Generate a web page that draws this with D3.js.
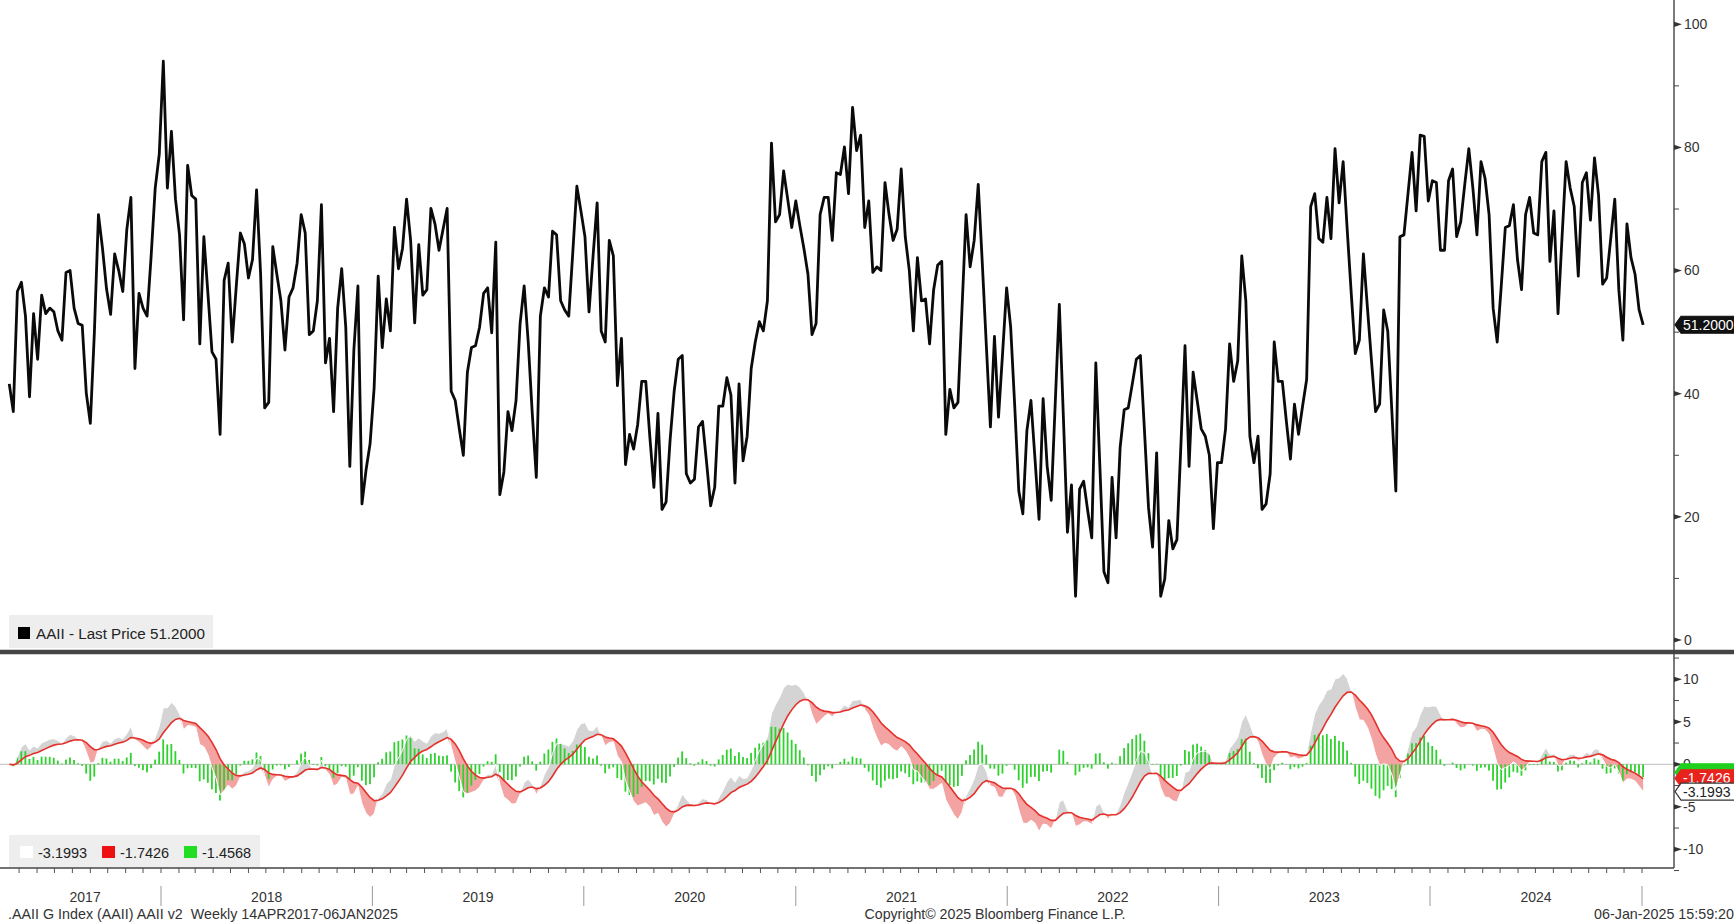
<!DOCTYPE html>
<html>
<head>
<meta charset="utf-8">
<script src="https://cdn.jsdelivr.net/npm/d3@7"></script>
<style>
  html, body { margin: 0; padding: 0; background: #fff; }
  svg { display: block; font-family: "Liberation Sans", Arial, sans-serif; }
</style>
</head>
<body>
<svg id="chart" width="1734" height="922"></svg>
<script>
// Weekly AAII readings, first week 14 Apr 2017, one value per week
const aaiiValues = [
  41.6, 37.1, 56.6, 58.1, 52.6, 39.5, 53.0, 45.6, 56.0, 53.0,
  53.9, 53.3, 50.2, 48.7, 59.7, 60.0, 53.9, 51.4, 51.1, 40.1,
  35.2, 50.0, 69.1, 63.6, 57.0, 52.9, 62.7, 60.0, 56.6, 66.7,
  71.9, 44.1, 56.3, 53.9, 52.6, 62.4, 73.4, 78.9, 94.0, 73.4,
  82.6, 71.6, 65.8, 52.0, 77.1, 72.2, 71.6, 48.1, 65.5, 56.3,
  46.8,
  45.6, 33.4, 58.4, 61.2, 48.4, 57.5, 66.1, 64.3, 58.8, 61.8,
  73.1, 59.4, 37.7, 38.6, 63.9, 59.4, 55.1, 47.1, 55.7, 57.2,
  61.2, 69.1, 66.1, 49.6, 50.2, 55.1, 70.7, 45.0, 49.0, 37.1,
  53.9, 60.3, 50.8, 28.2, 47.1, 57.5, 22.1, 27.6, 31.9, 41.0,
  59.1, 47.5, 55.4, 50.2, 67.0, 60.3, 63.6, 71.6, 64.9, 51.5,
  64.2,
  56.0, 56.9, 70.1, 67.6, 63.3, 66.7, 70.1, 40.4, 38.9, 34.3, 30.0,
  43.5, 47.5, 47.8, 50.8, 56.3, 57.2, 49.9, 64.6, 23.6, 27.3,
  37.1, 34.0, 38.9, 51.4, 57.5, 48.4, 36.8, 26.4, 52.6, 57.2,
  55.7, 66.4, 65.8, 55.1, 53.6, 52.6, 63.0, 73.7, 69.7, 65.5,
  53.3, 62.4, 71.0, 50.2, 48.4, 64.9, 62.4, 41.3, 49.0,
  28.5, 33.4, 31.0, 35.0, 42.0, 42.0, 33.0, 24.8, 36.8, 21.2,
  22.4, 32.5, 40.4, 45.6, 46.2, 27.0, 25.5, 26.1, 34.6, 35.5,
  28.8, 21.8, 24.8, 38.0, 38.0, 42.6, 39.8, 25.5, 41.6, 29.1,
  33.1, 44.1, 48.4, 51.7, 50.2, 55.1, 80.7, 67.9, 69.1, 76.2,
  71.6, 67.0, 71.3, 67.3, 63.6, 59.4, 49.6, 51.4, 69.1, 71.9,
  71.9,
  64.9, 75.9, 75.6, 80.1, 72.5, 86.5, 79.5, 82.0, 67.0, 71.3,
  59.7, 60.6, 60.0, 74.3, 69.1, 64.9, 66.7, 76.5, 65.5, 60.0,
  50.2, 62.1, 55.1, 55.4, 48.1, 56.9, 60.9, 61.5, 33.4, 40.7,
  37.7, 38.6, 53.9, 69.1, 60.6, 64.9, 74.0, 61.2, 47.8, 34.6,
  49.3, 36.2, 46.5, 57.2, 50.8, 38.0, 24.2, 20.5, 34.0, 38.9,
  29.4, 19.6, 39.2, 28.2, 22.7, 38.6, 54.5, 36.2, 17.5, 25.2,
  7.1, 24.5, 25.8, 21.0, 16.6, 45.0, 28.2, 11.1, 9.3, 26.4,
  16.6, 31.3, 37.4, 37.7, 41.6, 45.6, 46.2, 34.0, 21.5, 15.1,
  30.4, 7.1, 9.9, 19.4, 14.8, 16.3, 31.9, 47.8, 28.2, 43.5,
  38.9, 34.3, 33.1, 30.0, 18.1, 28.8, 28.8, 34.3, 48.1, 42.0,
  45.3, 62.4, 55.1, 33.1, 28.8, 33.1, 21.2, 22.1, 27.0, 48.4,
  42.0, 42.0, 35.5, 29.4, 38.3, 33.4, 38.0, 42.3, 70.4, 72.5,
  65.2, 64.6, 71.9, 65.2, 79.8, 71.0, 77.7, 66.7, 56.3, 46.5,
  48.7, 62.7, 53.9, 45.3, 37.1, 38.3, 53.6, 50.2, 37.4, 24.2,
  65.5, 65.8, 72.5, 79.2, 69.7, 82.0, 81.8, 71.3, 74.6, 74.3,
  63.3,
  63.3, 74.6, 76.5, 65.5, 67.9, 74.0, 79.8, 73.4, 65.8, 77.7,
  75.0, 69.1, 53.9, 48.4, 57.5, 67.0, 67.3, 70.7, 61.8, 56.9,
  69.1, 71.9, 66.1, 65.8, 77.7, 79.2, 61.5, 69.7, 53.0, 65.5,
  77.7, 73.4, 70.4, 59.1, 74.3, 75.9, 68.2, 78.3, 72.2, 57.8,
  58.8, 65.2, 71.6, 56.9, 48.7, 67.6, 62.1, 59.4, 53.6, 51.2
];

const firstWeek = new Date(2017, 3, 14);
const yearLabels = ["2017", "2018", "2019", "2020", "2021", "2022", "2023", "2024"];
const priceTicks = [0, 20, 40, 60, 80, 100];
const priceMinorTicks = [10, 30, 50, 70, 90];
const macdTicks = [-10, -5, 0, 5, 10];
const macdMinorTicks = [-12.5, -7.5, -2.5, 2.5, 7.5, 12.5];
const lastPriceText = "51.2000";
const priceLegendText = "AAII - Last Price 51.2000";
const macdLegendTexts = ["-3.1993", "-1.7426", "-1.4568"];
const footerLeft = ".AAII G Index (AAII) AAII v2\u00A0\u00A0Weekly 14APR2017-06JAN2025";
const footerMid = "Copyright\u00A9 2025 Bloomberg Finance L.P.";
const footerRight = "06-Jan-2025 15:59:20";

// MACD(12, 26, 9) study on the weekly series
function ema(values, n) {
  const k = 2 / (n + 1);
  const out = [];
  let prev = values[0];
  values.forEach((v, i) => {
    prev = i === 0 ? v : v * k + prev * (1 - k);
    out.push(prev);
  });
  return out;
}
const ema12 = ema(aaiiValues, 12);
const ema26 = ema(aaiiValues, 26);
const macdLine = ema12.map((v, i) => v - ema26[i]);
const signalLine = ema(macdLine, 9);
const histValues = macdLine.map((v, i) => v - signalLine[i]);

const rows = aaiiValues.map((v, i) => ({
  date: d3.timeDay.offset(firstWeek, 7 * i),
  v,
  macd: macdLine[i],
  signal: signalLine[i],
  hist: histValues[i]
}));

const svg = d3.select("#chart");
const W = 1734, H = 922;
const axisX = 1674;
const panelSplit = 652;
const axisBottom = 868;

const x = d3.scaleTime()
  .domain([new Date(2018, 0, 1), new Date(2025, 0, 1)])
  .range([161, 1642]);
const yTop = d3.scaleLinear().domain([0, 100]).range([640, 24.3]);
const yBot = d3.scaleLinear().domain([-10, 10]).range([849.3, 679.3]);

svg.append("rect").attr("width", W).attr("height", H).attr("fill", "#fff");

// ---------- price panel ----------
svg.append("path")
  .datum(rows)
  .attr("fill", "none")
  .attr("stroke", "#0a0a0a")
  .attr("stroke-width", 2.8)
  .attr("stroke-linejoin", "round")
  .attr("d", d3.line().x(d => x(d.date)).y(d => yTop(d.v)));

// legend box of the price panel
const pl = svg.append("g");
pl.append("rect").attr("x", 9).attr("y", 615).attr("width", 204).attr("height", 33).attr("fill", "#eeeeee");
pl.append("rect").attr("x", 18).attr("y", 627).attr("width", 12).attr("height", 12).attr("fill", "#000");
pl.append("text").attr("x", 36).attr("y", 639).attr("font-size", 15.2).attr("fill", "#222").text(priceLegendText);

// ---------- MACD panel ----------
svg.append("line")
  .attr("x1", 0).attr("x2", axisX).attr("y1", yBot(0)).attr("y2", yBot(0))
  .attr("stroke", "#bdbdbd").attr("stroke-width", 1);

const areaUp = d3.area()
  .x(d => x(d.date))
  .y0(d => yBot(d.signal))
  .y1(d => yBot(Math.max(d.macd, d.signal)));
const areaDown = d3.area()
  .x(d => x(d.date))
  .y0(d => yBot(d.signal))
  .y1(d => yBot(Math.min(d.macd, d.signal)));

svg.append("path").datum(rows).attr("fill", "#d4d4d4").attr("d", areaUp);
svg.append("path").datum(rows).attr("fill", "#f4a3a3").attr("d", areaDown);

svg.append("g").selectAll("rect")
  .data(rows)
  .join("rect")
  .attr("x", d => x(d.date) - 1)
  .attr("width", 1.8)
  .attr("y", d => Math.min(yBot(0), yBot(d.hist)))
  .attr("height", d => Math.abs(yBot(d.hist) - yBot(0)))
  .attr("fill", "#2fd12f");

svg.append("path")
  .datum(rows)
  .attr("fill", "none")
  .attr("stroke", "#ffffff")
  .attr("stroke-width", 1)
  .attr("d", d3.line().x(d => x(d.date)).y(d => yBot(d.macd)));

svg.append("path")
  .datum(rows)
  .attr("fill", "none")
  .attr("stroke", "#e5312b")
  .attr("stroke-width", 1.6)
  .attr("d", d3.line().x(d => x(d.date)).y(d => yBot(d.signal)));

// legend box of the MACD panel
const ml = svg.append("g");
ml.append("rect").attr("x", 9).attr("y", 835).attr("width", 251).attr("height", 32).attr("fill", "#eeeeee");
const legendItems = [
  { sq: 20, tx: 38, color: "#ffffff", text: macdLegendTexts[0] },
  { sq: 102, tx: 120, color: "#ee1111", text: macdLegendTexts[1] },
  { sq: 184, tx: 202, color: "#22dd22", text: macdLegendTexts[2] }
];
legendItems.forEach(it => {
  ml.append("rect").attr("x", it.sq).attr("y", 846).attr("width", 13).attr("height", 12).attr("fill", it.color);
  ml.append("text").attr("x", it.tx).attr("y", 858).attr("font-size", 14.5).attr("fill", "#222").text(it.text);
});

// ---------- panel divider ----------
svg.append("line")
  .attr("x1", 0).attr("x2", W).attr("y1", panelSplit).attr("y2", panelSplit)
  .attr("stroke", "#454545").attr("stroke-width", 4.5);

// ---------- right value axis ----------
const ax = svg.append("g");
ax.append("line").attr("x1", axisX).attr("x2", axisX).attr("y1", 0).attr("y2", axisBottom)
  .attr("stroke", "#444").attr("stroke-width", 1.4);

function majorTick(y) {
  ax.append("path")
    .attr("d", `M${axisX},${y - 2.6}L${axisX + 8},${y}L${axisX},${y + 2.6}Z`)
    .attr("fill", "#333");
}
function minorTick(y) {
  ax.append("line").attr("x1", axisX).attr("x2", axisX + 5).attr("y1", y).attr("y2", y)
    .attr("stroke", "#444").attr("stroke-width", 1);
}
priceTicks.forEach(t => {
  majorTick(yTop(t));
  ax.append("text").attr("x", axisX + 10).attr("y", yTop(t)).attr("dy", "0.35em")
    .attr("font-size", 14).attr("fill", "#333").text(t);
});
priceMinorTicks.forEach(t => minorTick(yTop(t)));
macdTicks.forEach(t => {
  majorTick(yBot(t));
  ax.append("text").attr("x", axisX + 9).attr("y", yBot(t)).attr("dy", "0.35em")
    .attr("font-size", 14).attr("fill", "#333").text(t);
});
macdMinorTicks.forEach(t => minorTick(yBot(t)));

// value tag on the axis: a box with a pointer towards the axis
function tag(y, fill, stroke, textFill, text) {
  const g = svg.append("g");
  g.append("path")
    .attr("d", `M${axisX + 1},${y}L${axisX + 7},${y - 8.5}L${W + 2},${y - 8.5}L${W + 2},${y + 8.5}L${axisX + 7},${y + 8.5}Z`)
    .attr("fill", fill).attr("stroke", stroke).attr("stroke-width", 1.2);
  if (text) {
    g.append("text").attr("x", axisX + 9).attr("y", y).attr("dy", "0.35em")
      .attr("font-size", 14).attr("fill", textFill).text(text);
  }
}
tag(yTop(aaiiValues[aaiiValues.length - 1]), "#111", "#111", "#fff", lastPriceText);

// last-value tags of the MACD study; the histogram tag sits behind the signal tag
const last = rows[rows.length - 1];
const macdTagY = yBot(last.macd);
let signalTagY = yBot(last.signal);
if (macdTagY - signalTagY < 13.5) signalTagY = macdTagY - 13.5;
signalTagY = Math.max(signalTagY, yBot(0) + 14);
let histTagY = yBot(last.hist);
if (histTagY > signalTagY - 6) histTagY = signalTagY - 6;
tag(histTagY, "#1fcf1f", "#1fcf1f", "#fff", null);
tag(signalTagY, "#e8221c", "#e8221c", "#fff", macdLegendTexts[1]);
tag(macdTagY, "#ffffff", "#333", "#222", macdLegendTexts[0]);

// ---------- time axis ----------
const tx = svg.append("g");
tx.append("line").attr("x1", 0).attr("x2", axisX).attr("y1", axisBottom).attr("y2", axisBottom)
  .attr("stroke", "#444").attr("stroke-width", 1.4);
d3.timeMonth.range(new Date(2017, 4, 1), new Date(2025, 1, 1)).forEach(m => {
  const px = x(m);
  if (px > axisX) return;
  tx.append("line").attr("x1", px).attr("x2", px).attr("y1", axisBottom).attr("y2", axisBottom + 5)
    .attr("stroke", "#555").attr("stroke-width", 1);
});
const yearStarts = d3.range(2018, 2026).map(yy => new Date(yy, 0, 1));
yearStarts.forEach(d => {
  tx.append("line").attr("x1", x(d)).attr("x2", x(d)).attr("y1", 886).attr("y2", 906)
    .attr("stroke", "#999").attr("stroke-width", 1);
});
yearLabels.forEach((lab, i) => {
  const a = i === 0 ? x(firstWeek) : x(new Date(2017 + i, 0, 1));
  const b = x(new Date(2018 + i, 0, 1));
  tx.append("text").attr("x", (a + b) / 2).attr("y", 902).attr("text-anchor", "middle")
    .attr("font-size", 14).attr("fill", "#333").text(lab);
});

svg.append("text").attr("x", 8).attr("y", 919).attr("font-size", 14.3).attr("fill", "#333").text(footerLeft);
svg.append("text").attr("x", 995).attr("y", 919).attr("text-anchor", "middle").attr("font-size", 14.2).attr("fill", "#333").text(footerMid);
svg.append("text").attr("x", W).attr("y", 919).attr("text-anchor", "end").attr("font-size", 14.3).attr("fill", "#333").text(footerRight);
</script>
</body>
</html>
